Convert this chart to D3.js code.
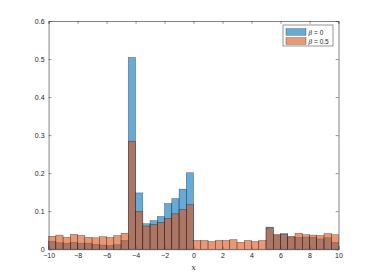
<!DOCTYPE html>
<html>
<head>
<meta charset="utf-8">
<script src="https://cdn.jsdelivr.net/npm/d3@7"></script>
<style>
  body { margin: 0; background: #fff; }
  svg text { font-family: "Liberation Sans", Arial, sans-serif; }
</style>
</head>
<body>
<div id="chart"></div>
<script>
// bin edges: -10 to 10, step 0.5 (40 bins)
var binStart = d3.range(-10, 10, 0.5);

// beta = 0
var beta0 = [0.021, 0.017, 0.016, 0.018, 0.016, 0.016, 0.013, 0.011, 0.010, 0.012,
             0.023, 0.504, 0.148, 0.067, 0.075, 0.086, 0.120, 0.133, 0.158, 0.201,
             0, 0, 0, 0, 0, 0, 0, 0, 0, 0,
             0.058, 0.036, 0.041, 0.032, 0.031, 0.032, 0.031, 0.027, 0.030, 0.018];

// beta = 0.5
var beta05 = [0.034, 0.037, 0.031, 0.039, 0.036, 0.031, 0.030, 0.033, 0.031, 0.036,
              0.042, 0.284, 0.099, 0.061, 0.065, 0.070, 0.081, 0.093, 0.104, 0.117,
              0.023, 0.023, 0.020, 0.023, 0.023, 0.025, 0.018, 0.023, 0.020, 0.023,
              0.056, 0.039, 0.038, 0.034, 0.042, 0.038, 0.037, 0.036, 0.041, 0.038];

var xTicks = d3.range(-10, 11, 2);
var yTicks = [0, 0.1, 0.2, 0.3, 0.4, 0.5, 0.6];

var series = [
  {name: '0', values: beta0, color: 'rgb(0,114,189)'},
  {name: '0.5', values: beta05, color: 'rgb(217,83,25)'}
];

var width = 374, height = 280,
    margin = {left: 48.6, right: 35.5, top: 21, bottom: 30.8};

var svg = d3.select('#chart').append('svg')
  .attr('width', width)
  .attr('height', height);

var x = d3.scaleLinear().domain([-10, 10]).range([margin.left, width - margin.right]);
var y = d3.scaleLinear().domain([0, 0.6]).range([height - margin.bottom, margin.top]);

// bars
series.forEach(function(s){
  svg.append('g').selectAll('rect')
    .data(s.values)
    .enter()
    .append('rect')
    .attr('x', function(d, i){ return x(binStart[i]); })
    .attr('y', function(d){ return y(d); })
    .attr('width', function(d, i){ return x(binStart[i] + 0.5) - x(binStart[i]); })
    .attr('height', function(d){ return y(0) - y(d); })
    .attr('fill', s.color)
    .attr('fill-opacity', 0.6)
    .attr('stroke', '#000')
    .attr('stroke-opacity', function(d){ return d > 0 ? 0.55 : 0; })
    .attr('stroke-width', 0.5);
});

var axisColor = '#4d4d4d';
var tickLen = 2.8;

// axes
var gx = svg.append('g')
  .attr('transform', 'translate(0,' + y(0) + ')')
  .call(d3.axisBottom(x).tickValues(xTicks).tickSize(-tickLen).tickPadding(4));
var gxTop = svg.append('g')
  .attr('transform', 'translate(0,' + y(0.6) + ')')
  .call(d3.axisTop(x).tickValues(xTicks).tickSize(-tickLen).tickFormat(''));
var gy = svg.append('g')
  .attr('transform', 'translate(' + x(-10) + ',0)')
  .call(d3.axisLeft(y).tickValues(yTicks).tickSize(-tickLen).tickPadding(4)
    .tickFormat(function(d){ return d === 0 ? '0' : d3.format('.1f')(d); }));
var gyRight = svg.append('g')
  .attr('transform', 'translate(' + x(10) + ',0)')
  .call(d3.axisRight(y).tickValues(yTicks).tickSize(-tickLen).tickFormat(''));

[gx, gxTop, gy, gyRight].forEach(function(g){
  g.select('.domain').attr('stroke', axisColor).attr('stroke-width', 0.7);
  g.selectAll('.tick line').attr('stroke', axisColor).attr('stroke-width', 0.6);
  g.selectAll('.tick text')
    .attr('fill', '#262626')
    .style('font-size', '7px');
});

// x label
svg.append('text')
  .attr('x', (x(-10) + x(10)) / 2)
  .attr('y', 270)
  .attr('text-anchor', 'middle')
  .attr('fill', '#262626')
  .style('font-size', '7.5px')
  .style('font-family', '"DejaVu Serif", "Liberation Serif", serif')
  .style('font-style', 'italic')
  .text('x');

// legend
var lg = svg.append('g').attr('transform', 'translate(283,25)');
lg.append('rect')
  .attr('width', 50).attr('height', 21)
  .attr('fill', '#fff')
  .attr('stroke', axisColor)
  .attr('stroke-width', 0.6);

series.forEach(function(s, i){
  var row = lg.append('g').attr('transform', 'translate(3,' + (3.7 + i * 9) + ')');
  row.append('rect')
    .attr('width', 20).attr('height', 6.6)
    .attr('fill', s.color)
    .attr('fill-opacity', 0.6)
    .attr('stroke', '#000')
    .attr('stroke-opacity', 0.55)
    .attr('stroke-width', 0.5);
  var t = row.append('text')
    .attr('x', 22.5)
    .attr('y', 5.8)
    .attr('fill', '#262626')
    .style('font-size', '6.5px');
  t.append('tspan')
    .style('font-family', '"DejaVu Serif", "Liberation Serif", serif')
    .style('font-style', 'italic')
    .text('β');
  t.append('tspan').text(' = ' + s.name);
});
</script>
</body>
</html>
